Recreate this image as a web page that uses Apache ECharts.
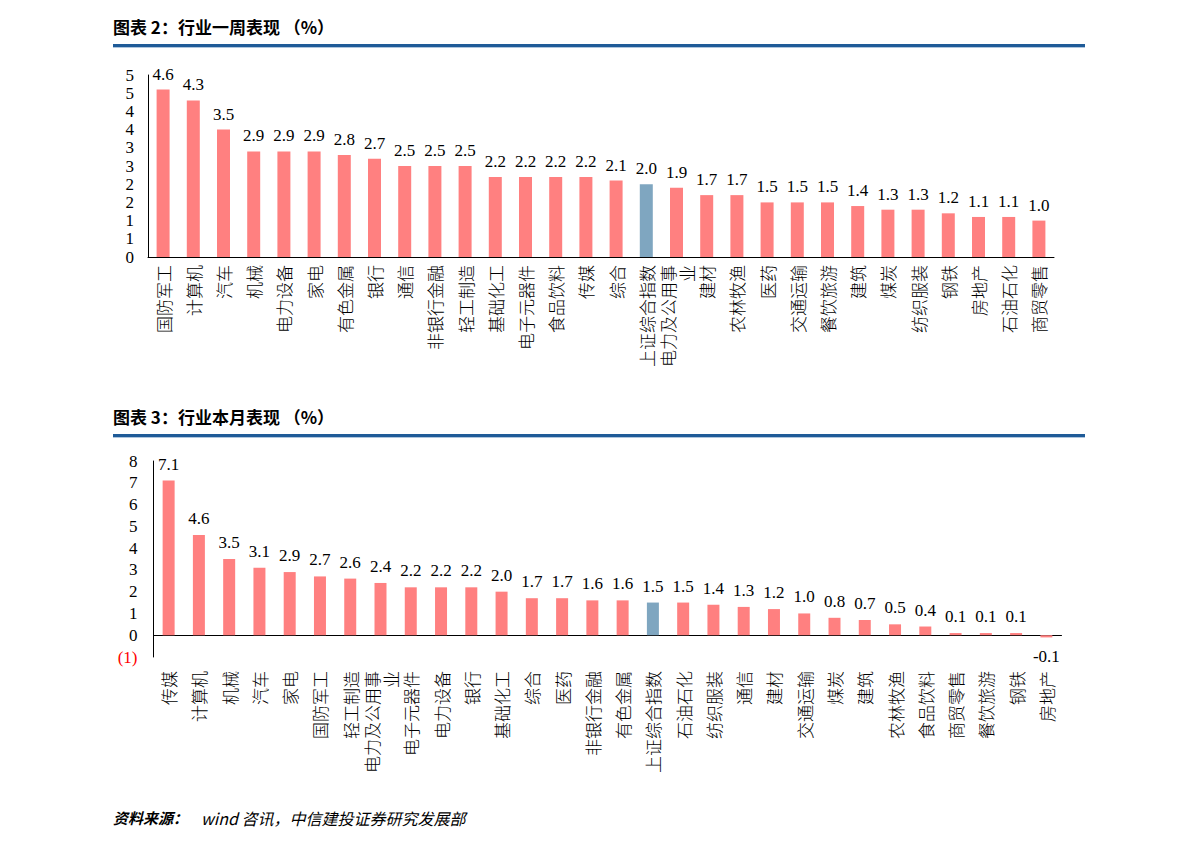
<!DOCTYPE html>
<html>
<head>
<meta charset="utf-8">
<script src="https://cdn.jsdelivr.net/npm/echarts@6/dist/echarts.min.js"></script>
<style>
html,body{margin:0;padding:0;background:#fff;}
#chart{width:1191px;height:849px;}
</style>
</head>
<body>
<div id="chart"></div>
<script>
// ---- data ----
const weekCats = ['国防军工','计算机','汽车','机械','电力设备','家电','有色金属','银行','通信','非银行金融','轻工制造','基础化工','电子元器件','食品饮料','传媒','综合','上证综合指数','电力及公用事业','建材','农林牧渔','医药','交通运输','餐饮旅游','建筑','煤炭','纺织服装','钢铁','房地产','石油石化','商贸零售'];
const weekVals = [4.6,4.3,3.5,2.9,2.9,2.9,2.8,2.7,2.5,2.5,2.5,2.2,2.2,2.2,2.2,2.1,2.0,1.9,1.7,1.7,1.5,1.5,1.5,1.4,1.3,1.3,1.2,1.1,1.1,1.0];
const weekYLabels = ['0','1','1','2','2','3','3','4','4','5','5'];

const monthCats = ['传媒','计算机','机械','汽车','家电','国防军工','轻工制造','电力及公用事业','电子元器件','电力设备','银行','基础化工','综合','医药','非银行金融','有色金属','上证综合指数','石油石化','纺织服装','通信','建材','交通运输','煤炭','建筑','农林牧渔','食品饮料','商贸零售','餐饮旅游','钢铁','房地产'];
const monthVals = [7.1,4.6,3.5,3.1,2.9,2.7,2.6,2.4,2.2,2.2,2.2,2.0,1.7,1.7,1.6,1.6,1.5,1.5,1.4,1.3,1.2,1.0,0.8,0.7,0.5,0.4,0.1,0.1,0.1,-0.1];
const monthYLabels = ['(1)','0','1','2','3','4','5','6','7','8'];

const indexName = '上证综合指数';
const title1 = '图表 2：行业一周表现 （%）';
const title2 = '图表 3：行业本月表现 （%）';
const sourceLabel = '资料来源：';
const sourceText = 'wind 咨讯，中信建投证券研究发展部';

// ---- styles ----
const PINK = '#FF8080';
const BLUE = '#7FA6C0';
const SERIF = '"Liberation Serif","Times New Roman",serif';
const CJK = '"Noto Sans CJK SC","Noto Sans",sans-serif';
const NUM_SIZE = 17;

function wrap(v){ return v.length > 6 ? v.slice(0,6) + '\n' + v.slice(6) : v; }
function items(cats, vals, negDist){
  return vals.map((v,i)=>({
    value: v,
    itemStyle: {color: cats[i] === indexName ? BLUE : PINK},
    label: v < 0 ? {position:'bottom', distance: negDist} : undefined
  }));
}

const catLabel = {
  interval: 0, rotate: 90, fontFamily: CJK, fontSize: 17, fontWeight: 300, color: '#000',
  lineHeight: 19, formatter: wrap
};
const axisLineStyle = {color:'#000', width:1};

const chart = echarts.init(document.getElementById('chart'), null, {renderer:'svg'});
chart.setOption({
  animation: false,
  backgroundColor: '#fff',
  grid: [
    {left:148, top:75, width:906, height:182},
    {left:153.5, top:461, width:908, height:196}
  ],
  xAxis: [
    {gridIndex:0, type:'category', data:weekCats, position:'bottom',
     axisLine:{lineStyle:axisLineStyle},
     axisTick:{inside:true, length:5, lineStyle:axisLineStyle},
     axisLabel:Object.assign({margin:8}, catLabel)},
    {gridIndex:1, type:'category', data:monthCats, position:'bottom',
     axisLine:{show:false, onZero:false},
     axisTick:{show:false},
     axisLabel:Object.assign({margin:14}, catLabel)},
    {gridIndex:1, type:'category', data:monthCats, position:'bottom',
     axisLine:{show:true, onZero:true, lineStyle:axisLineStyle},
     axisTick:{inside:true, length:5, lineStyle:axisLineStyle},
     axisLabel:{show:false}}
  ],
  yAxis: [
    {gridIndex:0, type:'value', min:0, max:5, interval:0.5,
     axisLine:{show:true, lineStyle:axisLineStyle}, axisTick:{show:false},
     splitLine:{show:false},
     axisLabel:{margin:14, fontFamily:SERIF, fontSize:NUM_SIZE, color:'#000',
       formatter:(v)=>weekYLabels[Math.round(v/0.5)]}},
    {gridIndex:1, type:'value', min:-1, max:8, interval:1,
     axisLine:{show:true, lineStyle:axisLineStyle}, axisTick:{show:false},
     splitLine:{show:false},
     axisLabel:{margin:16, fontFamily:SERIF, fontSize:NUM_SIZE, color:'#000',
       formatter:(v)=>{ const s = monthYLabels[Math.round(v)+1]; return v < 0 ? '{neg|' + s + '}' : s; },
       rich:{neg:{color:'#FF0000', fontFamily:SERIF, fontSize:NUM_SIZE}}}}
  ],
  series: [
    {type:'bar', xAxisIndex:0, yAxisIndex:0, barWidth:13,
     data: items(weekCats, weekVals, 11),
     label:{show:true, position:'top', distance:7, fontFamily:SERIF, fontSize:NUM_SIZE, color:'#000',
       formatter:(p)=>p.value.toFixed(1)}},
    {type:'bar', xAxisIndex:1, yAxisIndex:1, barWidth:12,
     data: items(monthCats, monthVals, 11),
     label:{show:true, position:'top', distance:8, fontFamily:SERIF, fontSize:NUM_SIZE, color:'#000',
       formatter:(p)=>p.value.toFixed(1)}}
  ],
  graphic: [
    {type:'text', left:113, top:18, style:{text:title1, font:'bold 17px ' + CJK, fill:'#000'}},
    {type:'rect', shape:{x:113, y:44, width:972, height:3}, style:{fill:'#1F5B98'}},
    {type:'rect', shape:{x:113, y:47, width:972, height:1}, style:{fill:'#AFC6DE'}},
    {type:'text', left:113, top:408, style:{text:title2, font:'bold 17px ' + CJK, fill:'#000'}},
    {type:'rect', shape:{x:113, y:434, width:972, height:3}, style:{fill:'#1F5B98'}},
    {type:'rect', shape:{x:113, y:437, width:972, height:1}, style:{fill:'#AFC6DE'}},
    {type:'text', left:113, top:810, style:{text:sourceLabel, font:'italic bold 15px ' + CJK, fill:'#000'}},
    {type:'text', left:201, top:810, style:{text:sourceText, font:'italic 16px ' + CJK, fill:'#000'}}
  ]
});
</script>
</body>
</html>
